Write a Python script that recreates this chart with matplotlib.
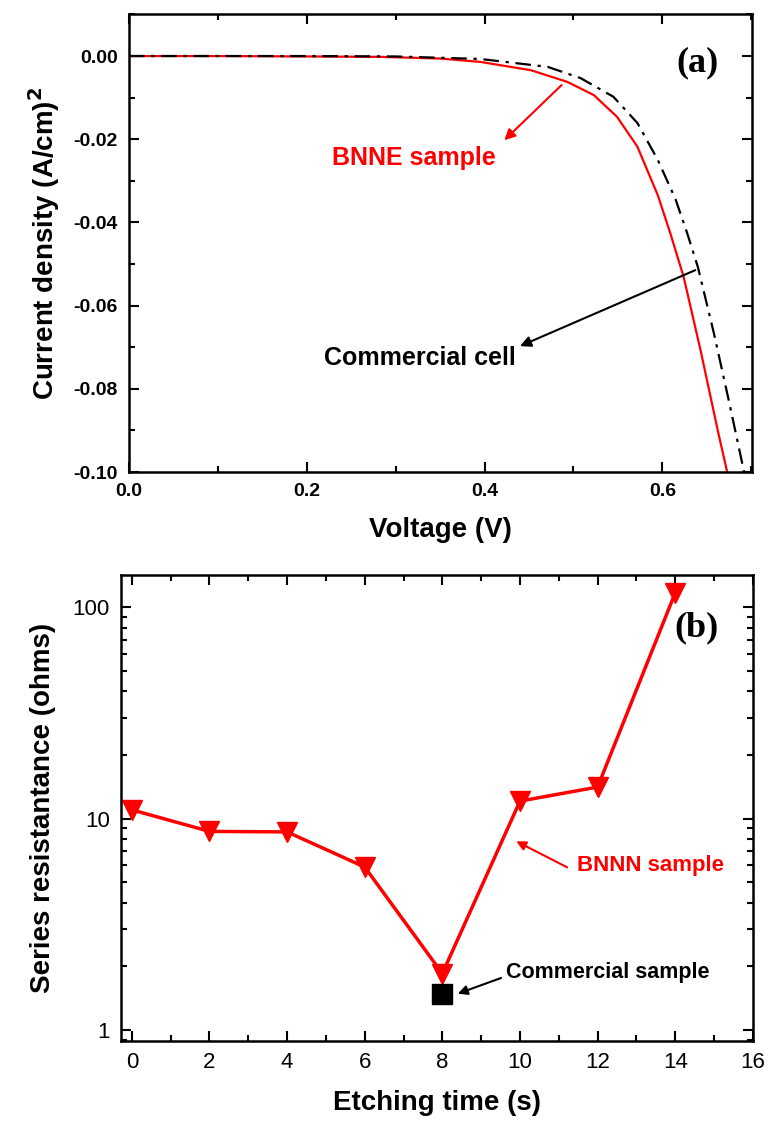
import numpy as np
import matplotlib
matplotlib.use("Agg")
import matplotlib.pyplot as plt
from matplotlib.ticker import MultipleLocator, LogLocator, FuncFormatter, NullFormatter

plt.rcParams['font.family'] = ['Liberation Sans', 'DejaVu Sans']
plt.rcParams['axes.unicode_minus'] = False

# (a) J-V curves
v_bnne = [0.0, 0.1, 0.2, 0.283, 0.35, 0.395, 0.452, 0.493, 0.523, 0.549, 0.572,
          0.595, 0.609, 0.624, 0.643, 0.663, 0.673]
j_bnne = [0.0, 0.0, -0.0001, -0.0002, -0.0006, -0.0014, -0.0034, -0.0062, -0.0094,
          -0.0146, -0.0218, -0.0335, -0.0426, -0.0531, -0.0707, -0.0906, -0.100]
v_comm = [0.0, 0.1, 0.2, 0.3, 0.395, 0.471, 0.508, 0.545, 0.572, 0.595, 0.615,
          0.628, 0.640, 0.658, 0.675, 0.692]
j_comm = [0.0, 0.0, 0.0, -0.0001, -0.0007, -0.0026, -0.0053, -0.0098, -0.0161,
          -0.025, -0.0345, -0.0426, -0.0507, -0.0666, -0.083, -0.100]

# (b) series resistance vs etching time
etch_time = [0, 2, 4, 6, 8, 10, 12, 14]
r_bnnn = [11.0, 8.7, 8.65, 5.9, 1.85, 12.1, 14.1, 117]
comm_time = [8]
r_comm = [1.48]

fig = plt.figure(figsize=(7.69, 11.22), dpi=100)
ax1 = fig.add_axes([0.1678, 0.5793, 0.8102, 0.4082])
ax2 = fig.add_axes([0.1573, 0.0722, 0.8217, 0.4153])

for ax in (ax1, ax2):
    for s in ax.spines.values():
        s.set_linewidth(1.8)
    ax.tick_params(which='both', direction='in', top=True, right=True, width=1.5)
    ax.tick_params(which='major', length=7)
    ax.tick_params(which='minor', length=4)

# ---- panel (a)
ax1.plot(v_bnne, j_bnne, color='red', lw=1.6)
ax1.plot(v_comm, j_comm, color='black', lw=1.6, linestyle=(0, (7, 3, 1.5, 3)))
ax1.set_xlim(0, 0.701)
ax1.set_ylim(-0.10, 0.0101)
ax1.set_xticks([0.0, 0.2, 0.4, 0.6])
ax1.xaxis.set_minor_locator(MultipleLocator(0.1))
ax1.set_yticks([0.0, -0.02, -0.04, -0.06, -0.08, -0.10])
ax1.yaxis.set_minor_locator(MultipleLocator(0.01))
ax1.xaxis.set_major_formatter(FuncFormatter(lambda x, p: '%.1f' % x))
ax1.yaxis.set_major_formatter(FuncFormatter(lambda y, p: '%.2f' % y))
for lab in ax1.get_xticklabels() + ax1.get_yticklabels():
    lab.set_fontweight('bold')
    lab.set_fontsize(14)
ax1.tick_params(which='major', pad=8)
ax1.set_xlabel('Voltage (V)', fontsize=20, fontweight='bold', labelpad=12)
ax1.set_ylabel(r'Current density (A/cm)$^\mathbf{2}$', fontsize=20, fontweight='bold', labelpad=8)
ax1.text(0.912, 0.893, '(a)', transform=ax1.transAxes, ha='center', va='center',
         fontsize=26, fontweight='bold', family='Liberation Serif')

ax1.annotate('', xy=(0.420, -0.0207), xytext=(0.489, -0.0065),
             arrowprops=dict(arrowstyle='-|>', color='red', lw=1.5, mutation_scale=16))
ax1.text(0.321, -0.0244, 'BNNE sample', color='red', fontsize=18, fontweight='bold',
         ha='center', va='center')
ax1.annotate('', xy=(0.437, -0.0700), xytext=(0.640, -0.0512),
             arrowprops=dict(arrowstyle='-|>', color='black', lw=1.5, mutation_scale=16))
ax1.text(0.327, -0.0725, 'Commercial cell', color='black', fontsize=18, fontweight='bold',
         ha='center', va='center')

# ---- panel (b)
ax2.set_yscale('log')
ax2.plot(etch_time, r_bnnn, color='red', lw=2.5, marker='v', markersize=14)
ax2.plot(comm_time, r_comm, color='black', linestyle='none', marker='s', markersize=14)
ax2.set_xlim(-0.28, 15.93)
ax2.set_ylim(0.887, 142)
ax2.set_xticks([0, 2, 4, 6, 8, 10, 12, 14, 16])
ax2.xaxis.set_minor_locator(MultipleLocator(1))
ax2.yaxis.set_major_locator(LogLocator(base=10))
ax2.yaxis.set_minor_locator(LogLocator(base=10, subs=np.arange(2, 10)))
ax2.yaxis.set_minor_formatter(NullFormatter())
ax2.yaxis.set_major_formatter(FuncFormatter(lambda y, p: '%g' % y))
ax2.tick_params(which='major', labelsize=16, pad=8)
ax2.set_xlabel('Etching time (s)', fontsize=20, fontweight='bold', labelpad=12)
ax2.set_ylabel('Series resistantance (ohms)', fontsize=20, fontweight='bold', labelpad=12)
ax2.text(0.911, 0.886, '(b)', transform=ax2.transAxes, ha='center', va='center',
         fontsize=26, fontweight='bold', family='Liberation Serif')

ax2.annotate('', xy=(9.84, 7.92), xytext=(11.28, 5.8),
             arrowprops=dict(arrowstyle='-|>', color='red', lw=1.5, mutation_scale=14))
ax2.text(11.47, 6.0, 'BNNN sample', color='red', fontsize=16, fontweight='bold',
         ha='left', va='center')
ax2.annotate('', xy=(8.33, 1.47), xytext=(9.58, 1.78),
             arrowprops=dict(arrowstyle='-|>', color='black', lw=1.5, mutation_scale=14))
ax2.text(9.65, 1.88, 'Commercial sample', color='black', fontsize=15.5, fontweight='bold',
         ha='left', va='center')

fig.savefig('out.png', dpi=100)
